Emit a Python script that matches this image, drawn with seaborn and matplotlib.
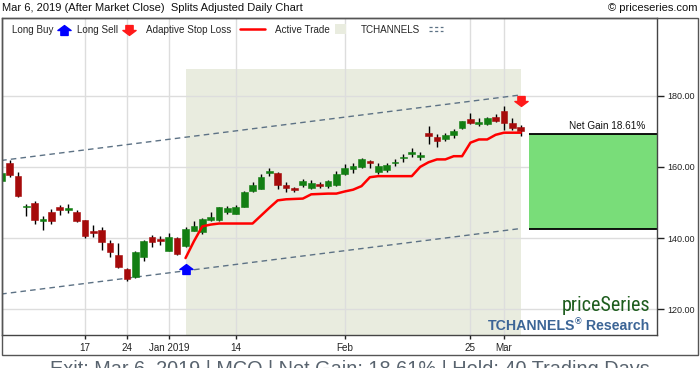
import numpy as np
import pandas as pd
import matplotlib
matplotlib.use("Agg")
import matplotlib.pyplot as plt
import seaborn as sns
from matplotlib.patches import Rectangle
from matplotlib.path import Path
from matplotlib.lines import Line2D
from matplotlib import font_manager

sns.set_style("white")
plt.rcParams["font.family"] = ["Liberation Sans", "DejaVu Sans"]

# ---------------- data ----------------
opens = [156.0, 161.0, 157.4, 148.6, 149.8, 144.8, 147.2, 148.6, 147.8, 147.2,
         145.0, 142.1, 142.2, 138.5, 135.4, 131.3, 129.2, 134.8, 140.2, 139.7,
         136.5, 139.9, 137.7, 142.1, 141.7, 145.1, 145.1, 147.4, 146.9, 148.8,
         153.2, 153.9, 158.2, 158.2, 155.0, 154.0, 154.8, 154.1, 155.1, 154.6,
         155.0, 158.0, 159.4, 160.0, 161.6, 158.7, 159.0, 161.1, 162.5, 163.6,
         162.8, 169.6, 168.4, 167.7, 168.9, 170.9, 173.4, 172.0, 171.9, 173.9,
         175.7, 172.3, 171.2]
highs = [158.6, 161.9, 158.6, 149.7, 150.3, 146.1, 148.3, 149.2, 149.5, 147.8,
         145.2, 143.6, 143.1, 139.4, 138.6, 131.7, 136.4, 139.4, 140.8, 140.5,
         141.5, 140.3, 143.1, 144.7, 145.6, 147.3, 148.8, 148.9, 149.4, 153.2,
         155.8, 158.1, 159.6, 158.6, 155.8, 154.4, 156.5, 156.2, 155.8, 156.2,
         158.9, 160.7, 161.0, 162.5, 161.9, 161.0, 161.0, 162.2, 163.6, 165.2,
         164.1, 171.5, 169.2, 169.4, 170.5, 173.0, 175.0, 173.6, 174.1, 174.8,
         177.1, 173.6, 171.7]
lows = [155.7, 157.2, 151.5, 146.3, 144.1, 142.4, 144.1, 146.6, 147.0, 144.4,
        140.1, 140.3, 136.7, 134.6, 131.7, 128.1, 128.8, 133.5, 137.5, 138.1,
        136.3, 135.3, 137.5, 141.9, 141.2, 144.9, 144.7, 146.9, 146.7, 148.6,
        153.0, 153.7, 157.5, 153.9, 152.9, 152.9, 154.3, 153.9, 154.1, 154.1,
        154.6, 157.8, 158.4, 159.8, 159.8, 158.1, 158.5, 160.3, 161.3, 162.9,
        161.9, 166.3, 165.5, 167.2, 168.2, 170.5, 171.9, 171.5, 171.7, 172.5,
        170.3, 170.4, 168.7]
closes = [158.3, 157.6, 151.8, 149.1, 145.1, 145.3, 144.7, 147.8, 148.4, 144.9,
          140.6, 141.5, 138.9, 136.0, 131.8, 128.6, 136.2, 139.3, 138.8, 139.3,
          140.2, 135.5, 142.6, 143.3, 145.3, 145.8, 148.6, 148.4, 148.6, 152.9,
          154.8, 157.2, 158.8, 155.0, 154.0, 153.4, 155.9, 155.4, 154.5, 156.0,
          157.9, 159.6, 160.3, 162.1, 161.0, 160.2, 160.6, 161.4, 162.8, 164.1,
          163.3, 168.6, 167.3, 168.9, 170.0, 172.9, 172.3, 172.7, 173.6, 173.0,
          172.2, 170.9, 170.1]

# adaptive stop loss during the active trade (trading day 22 .. 62)
stop_start = 22
stop_values = [134.4, 139.1, 143.3, 143.8, 144.1, 144.1, 144.1, 144.1, 144.1,
               146.3, 148.5, 150.6, 150.9, 151.0, 151.1, 152.3, 152.4, 152.5,
               152.5, 153.1, 153.6, 154.6, 157.1, 157.4, 157.4, 157.4, 157.4,
               157.4, 160.0, 161.3, 162.1, 162.1, 163.0, 163.0, 166.8, 167.7,
               167.7, 169.0, 169.6, 169.6, 169.6]

# trade
entry_day, exit_day = 22, 62
entry_price, exit_price = 142.7, 169.3
buy_marker_price = 131.3
sell_marker_price = 178.5
shade_top = 187.5

# TCHANNELS lines (start day, end day)
chan_days = [0, 62]
chan_upper = [161.8, 180.2]
chan_lower = [124.3, 142.7]

# axis ticks
tick_days = [10, 15, 20, 28, 41, 56, 60]
tick_labels = ["17", "24", "Jan 2019", "14", "Feb", "25", "Mar"]
ytick_values = [120, 140, 160, 180]

title_left = "Mar 6, 2019 (After Market Close)  Splits Adjusted Daily Chart"
title_right = "\u00a9 priceseries.com"
footer = "Exit: Mar 6, 2019 | MCO | Net Gain: 18.61% | Hold: 40 Trading Days"
gain_label = "Net Gain 18.61%"

df = pd.DataFrame({"day": np.arange(len(opens)), "open": opens, "high": highs,
                   "low": lows, "close": closes})
stop_df = pd.DataFrame({"day": np.arange(stop_start, stop_start + len(stop_values)),
                        "stop": stop_values})

# ---------------- figure ----------------
W, H = 700, 368
fig = plt.figure(figsize=(W / 100, H / 100), dpi=100)


def fx(px):
    return px / W


def fy(py):
    return 1 - py / H


ax = fig.add_axes([fx(2), fy(335), fx(657) - fx(2), fy(18) - fy(335)])
ax.set_xlim(0.1, 78.26)
ax.set_ylim(112.8, 201.8)

SHADE = "#e9ecdf"
RED_C = "#a60b0b"
GRN_C = "#137f13"
CHAN_C = "#5d7285"

# grid
ax.set_axisbelow(True)
ax.grid(True, color="#dddddd", lw=1.0)

# active trade shading
ax.fill_between([entry_day, exit_day], 100, shade_top, color=SHADE, lw=0, zorder=0.2)

# channel lines
ax.plot(chan_days, chan_upper, color=CHAN_C, lw=1.0, ls=(0, (4, 3)), zorder=1.5)
ax.plot(chan_days, chan_lower, color=CHAN_C, lw=1.0, ls=(0, (4, 3)), zorder=1.5)

# candles
up = df["close"] >= df["open"]
colors = np.where(up, GRN_C, RED_C)
ax.vlines(df["day"], df["low"], df["high"], color="black", lw=1.0, zorder=2)
body_lo = np.minimum(df["open"], df["close"])
body_h = np.maximum(np.abs(df["close"] - df["open"]), 0.35)
ax.bar(df["day"], body_h, bottom=body_lo, width=0.8, color=colors,
       edgecolor=colors, lw=0.4, zorder=3)

# adaptive stop loss
sns.lineplot(data=stop_df, x="day", y="stop", color="#ff0000", lw=1.8, ax=ax,
             zorder=4)

# net gain box
ax.fill_between([exit_day + 1, 90], entry_price, exit_price, color="#79dd79",
                lw=0, zorder=1)
ax.hlines([entry_price, exit_price], exit_day + 1, 90, color="black", lw=1.3, zorder=2)
ax.text(76.9, exit_price + 1.2, gain_label, ha="right", va="baseline", fontsize=7.2,
        color="#111111")

# markers
up_verts = [(0, 0.45), (0.6, 0), (0.33, 0), (0.33, -0.45), (-0.33, -0.45),
            (-0.33, 0), (-0.6, 0), (0, 0.45)]
up_marker = Path(up_verts, closed=True)
down_marker = Path([(x, -y) for x, y in up_verts], closed=True)
ax.plot([entry_day], [buy_marker_price], marker=up_marker, ms=9.5, color="#0000ff",
        ls="none", zorder=5)
ax.plot([exit_day], [sell_marker_price], marker=down_marker, ms=9.5,
        color="#ff1a1a", ls="none", zorder=5)

# axes styling
ax.set_xticks(tick_days)
ax.set_xticklabels(tick_labels)
ax.set_yticks(ytick_values)
ax.set_yticklabels([f"{v:.2f}" for v in ytick_values])
ax.yaxis.tick_right()
ax.tick_params(axis="y", which="both", right=True, left=False, length=5, width=1,
               pad=2.5, labelsize=6.5, colors="#222222")
ax.tick_params(axis="x", which="both", bottom=True, length=3, width=1, pad=2.5,
               labelsize=7.1, colors="#222222")
ax.set_xlabel("")
ax.set_ylabel("")
for s in ax.spines.values():
    s.set_color("#444444")
    s.set_linewidth(1.0)

# outer frame
fig.add_artist(Rectangle((fx(2), fy(355)), fx(698) - fx(2), fy(18) - fy(355),
                         transform=fig.transFigure, fill=False,
                         edgecolor="#555555", lw=1.0))

# header texts
fig.text(fx(2), fy(11), title_left, ha="left", va="baseline", fontsize=8,
         color="#111111")
fig.text(fx(697), fy(11), title_right, ha="right", va="baseline", fontsize=8,
         color="#111111")

# legend row
LEG_Y = 33
fs_leg = 7.1
fig.text(fx(12), fy(LEG_Y), "Long Buy", fontsize=fs_leg, va="baseline")
fig.add_artist(Line2D([fx(64)], [fy(30)], marker=up_marker, ms=9.5, color="#0000ff",
                      ls="none", transform=fig.transFigure))
fig.text(fx(77), fy(LEG_Y), "Long Sell", fontsize=fs_leg, va="baseline")
fig.add_artist(Line2D([fx(129)], [fy(30)], marker=down_marker, ms=9.5,
                      color="#ff1a1a", ls="none", transform=fig.transFigure))
fig.text(fx(146), fy(LEG_Y), "Adaptive Stop Loss", fontsize=fs_leg, va="baseline")
fig.add_artist(Line2D([fx(240), fx(265)], [fy(29), fy(29)], color="#ff0000",
                      lw=1.8, transform=fig.transFigure))
fig.text(fx(275), fy(LEG_Y), "Active Trade", fontsize=fs_leg, va="baseline")
fig.add_artist(Rectangle((fx(335), fy(34)), fx(346) - fx(335), fy(24) - fy(34),
                         transform=fig.transFigure, color=SHADE, lw=0))
fig.text(fx(361), fy(LEG_Y), "TCHANNELS", fontsize=fs_leg, va="baseline")
for yy in (27, 31):
    fig.add_artist(Line2D([fx(429), fx(443)], [fy(yy), fy(yy)], color=CHAN_C,
                          lw=0.9, ls=(0, (2.5, 2)), transform=fig.transFigure))

# logo: prefer a condensed face if one is installed
installed = {f.name for f in font_manager.fontManager.ttflist}
narrow = [n for n in ["Liberation Sans Narrow", "DejaVu Sans Condensed",
                      "Roboto Condensed", "Open Sans Condensed"] if n in installed]
if narrow:
    logo_family, logo_size = [narrow[0], "Liberation Sans"], 14.5
else:
    logo_family, logo_size = ["Liberation Sans"], 12.5
fig.text(fx(650), fy(311), "priceSeries", ha="right", va="baseline",
         fontsize=logo_size, color="#1d5c1d", family=logo_family)
renderer = fig.canvas.get_renderer()
t_res = fig.text(fx(649), fy(330), " Research", ha="right", va="baseline",
                 fontsize=10.2, fontweight="bold", color="#3c6596")
bb = t_res.get_window_extent(renderer)
t_reg = fig.text(bb.x0 / W, fy(324), "\u00ae", ha="right", va="baseline",
                 fontsize=6.5, fontweight="bold", color="#3c6596")
bb2 = t_reg.get_window_extent(renderer)
fig.text(bb2.x0 / W, fy(330), "TCHANNELS", ha="right", va="baseline",
         fontsize=10.2, fontweight="bold", color="#3c6596")

# footer (partially cut by the image border like the reference)
fig.text(fx(350), fy(375), footer, ha="center", va="baseline", fontsize=14.3,
         color="#58636e")

fig.savefig("out.png", dpi=100)
